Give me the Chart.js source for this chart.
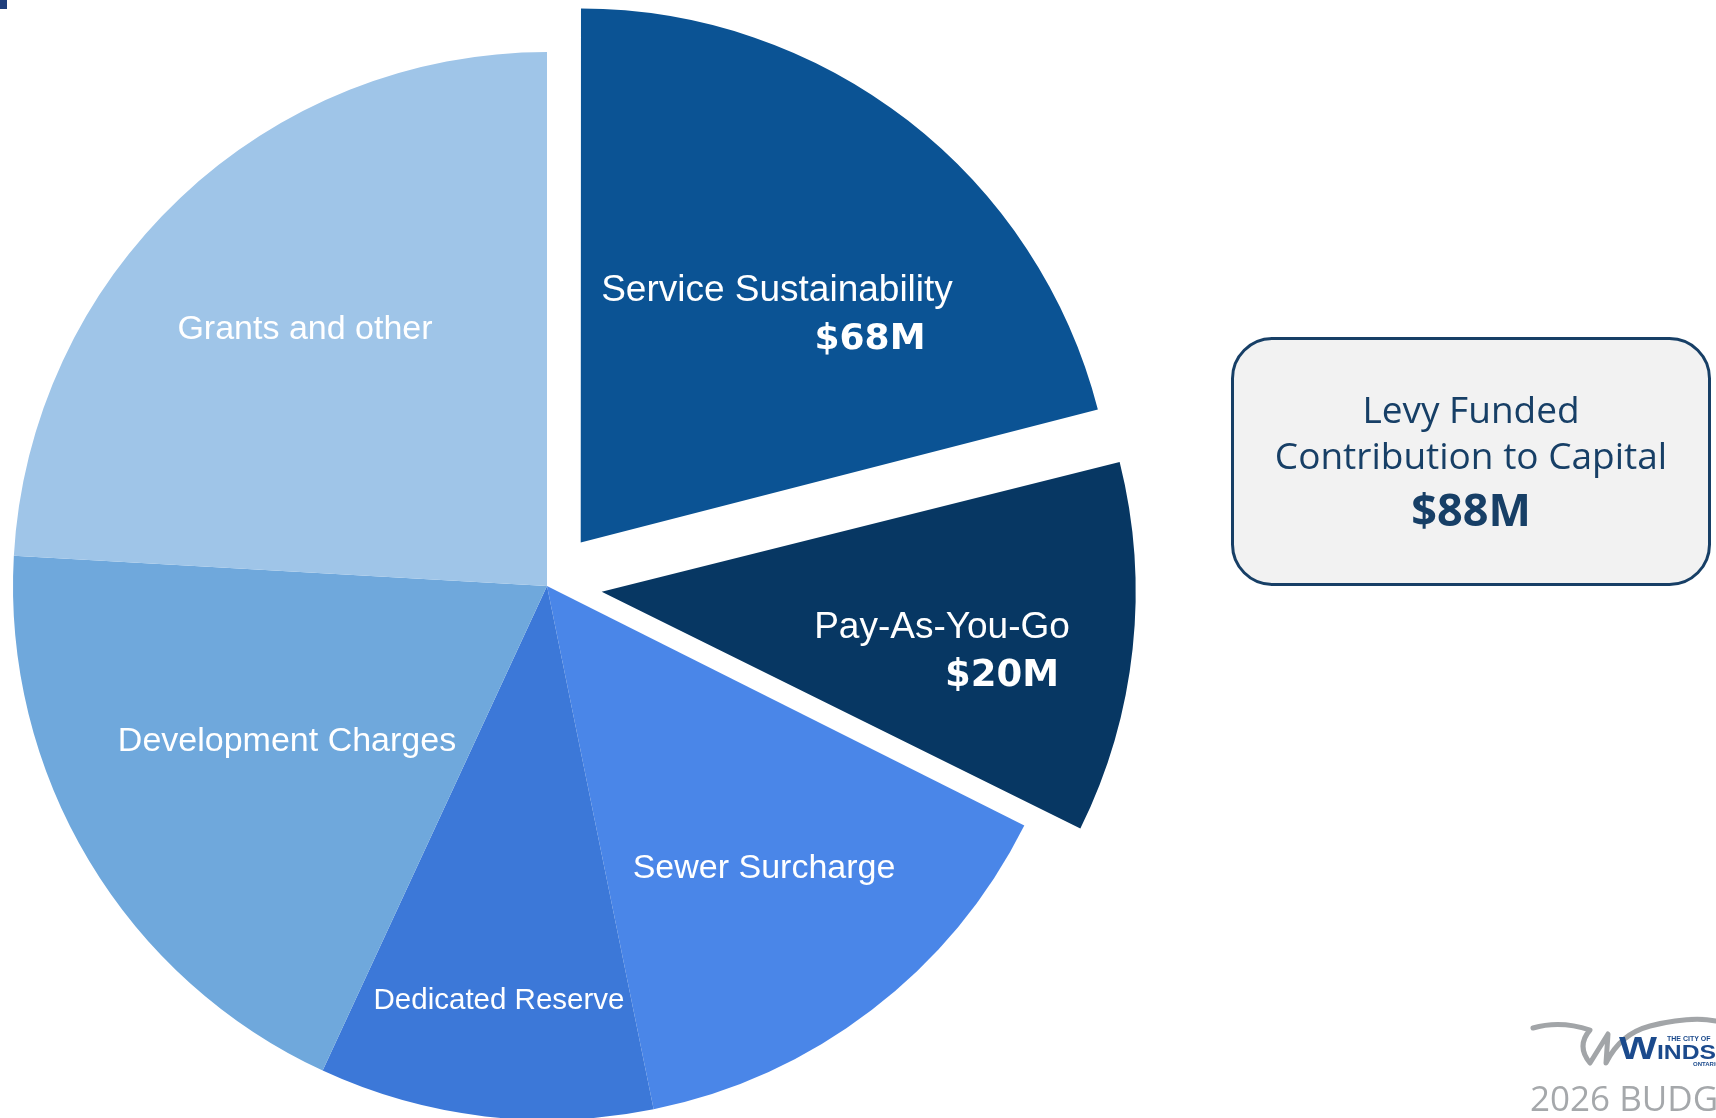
<!DOCTYPE html>
<html>
<head>
<meta charset="utf-8">
<script src="https://cdn.jsdelivr.net/npm/chart.js@4.4.1/dist/chart.umd.min.js"></script>
<style>
  html, body { margin:0; padding:0; background:#ffffff; width:1716px; height:1118px; overflow:hidden; }
  #stage { position:absolute; left:0; top:0; width:1716px; height:1118px; }
  #pie { position:absolute; left:0; top:0; }
  #overlay { position:absolute; left:0; top:0; }
</style>
</head>
<body>
<div id="stage">
  <canvas id="pie" width="1716" height="1118"></canvas>
  <svg id="overlay" width="1716" height="1118" xmlns="http://www.w3.org/2000/svg">
    <rect x="0" y="0" width="7" height="9" fill="#1f3f7c"/>
    <rect x="1232.5" y="338.5" width="477" height="246" rx="40" ry="40" fill="#f2f2f2" stroke="#173f66" stroke-width="3"/>
    <text id="boxLine1" x="1471" y="422.7" text-anchor="middle" font-family="Open Sans" font-size="37" fill="#173f66"></text>
    <text id="boxLine2" x="1471" y="469.3" text-anchor="middle" font-family="Open Sans" font-size="37" fill="#173f66"></text>
    <text id="boxTotal" x="1471" y="526" text-anchor="middle" font-family="Open Sans" font-weight="bold" font-size="45" fill="#173f66"></text>
    <path d="M1533,1028 Q1560,1020 1590,1030 Q1576,1046 1590,1063 L1608,1034 L1606,1063 Q1620,1034 1650,1026 Q1690,1016 1716,1021" fill="none" stroke="#a2a5a8" stroke-width="5" stroke-linecap="round" stroke-linejoin="round"/>
    <text x="1619" y="1059" font-family="Liberation Sans" font-weight="bold" font-size="31" fill="#1b4a8c" textLength="38" lengthAdjust="spacingAndGlyphs">W</text>
    <text x="1657" y="1059" font-family="Liberation Sans" font-weight="bold" font-size="20" fill="#1b4a8c" textLength="96" lengthAdjust="spacingAndGlyphs">INDSOR</text>
    <text x="1667" y="1041" font-family="Liberation Sans" font-weight="bold" font-size="7" fill="#1b4a8c">THE CITY OF</text>
    <text x="1693" y="1066" font-family="Liberation Sans" font-weight="bold" font-size="6" fill="#1b4a8c">ONTARIO</text>
    <text x="1530" y="1110.7" font-family="Open Sans" font-size="35" fill="#a5a8ab">2026 BUDGET</text>
  </svg>
</div>
<script>
// ---- data ----
const categories = ['Service Sustainability', 'Pay-As-You-Go', 'Sewer Surcharge', 'Dedicated Reserve', 'Development Charges', 'Grants and other'];
const sliceShares = [21.0, 11.4, 14.4, 10.1, 19.0, 24.1];       // share of the circle (%)
const amountLabels = ['$68M', '$20M', '', '', '', ''];
const boxTitleLines = ['Levy Funded', 'Contribution to Capital'];
const boxTotal = '$88M';

// ---- styles ----
const sliceColors = ['#0b5394', '#073763', '#4a86e8', '#3c78d8', '#6fa8dc', '#9fc5e8'];
const sliceOffsets = [220, 220, 0, 0, 0, 0];
const nameFontSizes = [37, 37, 34, 29.5, 34, 34];
const amountFontSizes = [36, 37, 0, 0, 0, 0];
// label anchors relative to pie centre (centre x, baseline y)
const nameAnchors = [[230, -285], [395, 52], [217, 292], [-48, 423], [-260, 165], [-242, -247]];
const amountAnchors = [[323, -237], [455, 100], null, null, null, null];

document.getElementById('boxLine1').textContent = boxTitleLines[0];
document.getElementById('boxLine2').textContent = boxTitleLines[1];
document.getElementById('boxTotal').textContent = boxTotal;

// keep exploded slices at the same outer radius as the others
const radiusFixPlugin = {
  id: 'radiusFix',
  beforeDatasetDraw(chart) {
    const meta = chart.getDatasetMeta(0);
    const base = meta.controller.outerRadius;
    meta.data.forEach((arc, i) => {
      const off = (sliceOffsets[i] || 0) / 4;
      const fix = 1 - Math.sin(Math.min(Math.PI, arc.circumference || 0));
      arc.outerRadius = base - off * fix;
    });
  }
};

const sliceLabelPlugin = {
  id: 'sliceLabels',
  afterDatasetsDraw(chart) {
    const ctx = chart.ctx;
    const meta = chart.getDatasetMeta(0);
    ctx.save();
    ctx.fillStyle = '#ffffff';
    ctx.textAlign = 'center';
    ctx.textBaseline = 'alphabetic';
    meta.data.forEach((arc, i) => {
      const a = nameAnchors[i];
      ctx.font = nameFontSizes[i] + 'px "Liberation Sans", Arial, sans-serif';
      ctx.fillText(chart.data.labels[i], arc.x + a[0], arc.y + a[1]);
      if (amountLabels[i] && amountAnchors[i]) {
        const b = amountAnchors[i];
        ctx.font = 'bold ' + amountFontSizes[i] + 'px "DejaVu Sans", sans-serif';
        ctx.fillText(amountLabels[i], arc.x + b[0], arc.y + b[1]);
      }
    });
    ctx.restore();
  }
};

new Chart(document.getElementById('pie'), {
  type: 'pie',
  data: {
    labels: categories,
    datasets: [{
      data: sliceShares,
      backgroundColor: sliceColors,
      borderWidth: 0,
      offset: sliceOffsets,
      hoverOffset: 0
    }]
  },
  options: {
    responsive: false,
    animation: false,
    events: [],
    radius: 534,
    layout: { padding: { left: 0, right: 622, top: 54, bottom: 0 } },
    plugins: { legend: { display: false }, tooltip: { enabled: false } }
  },
  plugins: [radiusFixPlugin, sliceLabelPlugin]
});
</script>
</body>
</html>
